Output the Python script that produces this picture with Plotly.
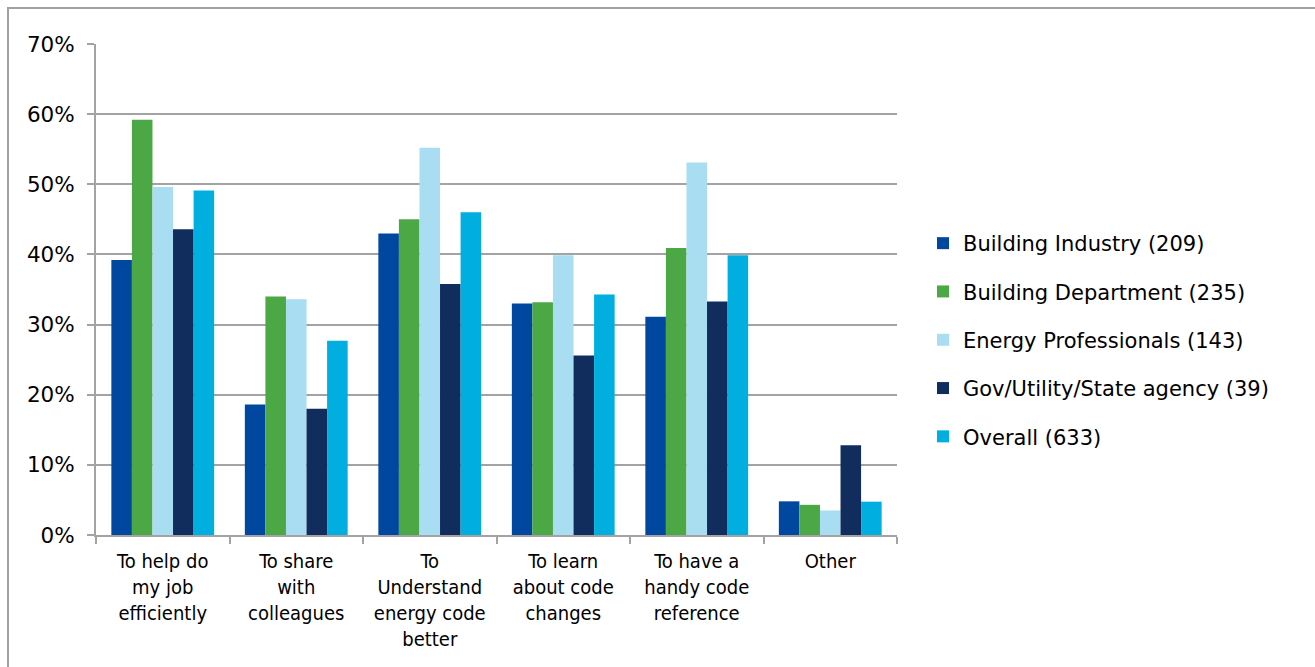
import plotly.graph_objects as go

# Survey: reasons for using the energy code tool, by respondent group (% of respondents)
categories = [
    "To help do<br>my job<br>efficiently",
    "To share<br>with<br>colleagues",
    "To<br>Understand<br>energy code<br>better",
    "To learn<br>about code<br>changes",
    "To have a<br>handy code<br>reference",
    "Other",
]

series_names = [
    "Building Industry (209)",
    "Building Department (235)",
    "Energy Professionals (143)",
    "Gov/Utility/State agency (39)",
    "Overall (633)",
]

building_industry = [39.2, 18.6, 43.0, 33.0, 31.1, 4.8]
building_department = [59.2, 34.0, 45.0, 33.2, 40.9, 4.3]
energy_professionals = [49.6, 33.6, 55.2, 39.9, 53.1, 3.5]
gov_utility_state = [43.6, 18.0, 35.8, 25.6, 33.3, 12.8]
overall = [49.1, 27.7, 46.0, 34.3, 39.9, 4.75]

series_values = [building_industry, building_department, energy_professionals,
                 gov_utility_state, overall]
colors = ["#0047A0", "#4BA845", "#A8DDF2", "#112D5E", "#00AEE0"]

W, H = 1315, 667
L, R, T, B = 96, 418, 44, 132

fig = go.Figure()
for i, (name, vals, col) in enumerate(zip(series_names, series_values, colors)):
    fig.add_trace(go.Bar(
        x=categories, y=vals, name=name,
        marker=dict(color=col, line=dict(width=0)),
        legendgroup=f"g{i}",
    ))

grid = "#A3A3A3"
plot_w = W - L - R
plot_h = H - T - B

fig.update_layout(
    width=W, height=H,
    margin=dict(l=L, r=R, t=T, b=B, autoexpand=False),
    paper_bgcolor="white", plot_bgcolor="white",
    barmode="group", bargap=0.23, bargroupgap=0,
    font=dict(family="DejaVu Sans, Verdana, sans-serif", size=19, color="#000000"),
    legend=dict(
        x=(923 - L) / plot_w, xanchor="left",
        y=(535 - 340) / plot_h, yanchor="middle",
        traceorder="grouped", tracegroupgap=18,
        font=dict(size=21, color="#000000"),
        itemwidth=30, bgcolor="rgba(0,0,0,0)",
    ),
    showlegend=True,
    xaxis=dict(
        showline=True, linecolor=grid, linewidth=2,
        ticks="outside", tickson="boundaries", ticklen=7, tickcolor=grid, tickwidth=2,
        showgrid=False,
        tickfont=dict(family="DejaVu Sans Condensed, Liberation Sans Narrow, DejaVu Sans, sans-serif",
                      size=20, color="#000000"),
        ticklabelstandoff=7,
    ),
    yaxis=dict(
        range=[0, 70], dtick=10, ticksuffix="%",
        showline=True, linecolor=grid, linewidth=2,
        showgrid=True, gridcolor=grid, gridwidth=2,
        ticks="outside", ticklen=7, tickcolor=grid, tickwidth=2,
        tickfont=dict(size=21.5, color="#000000"),
        zeroline=False,
        ticklabelstandoff=8,
    ),
    shapes=[
        # outer chart frame
        dict(type="rect", xref="paper", yref="paper",
             x0=(8 - L) / plot_w, x1=(W + 20 - L) / plot_w,
             y0=-(H + 20 - (H - B)) / plot_h, y1=1 + (T - 8) / plot_h,
             line=dict(color="#A0A0A0", width=2), layer="below"),
    ],
)

fig.write_html("out.html")
